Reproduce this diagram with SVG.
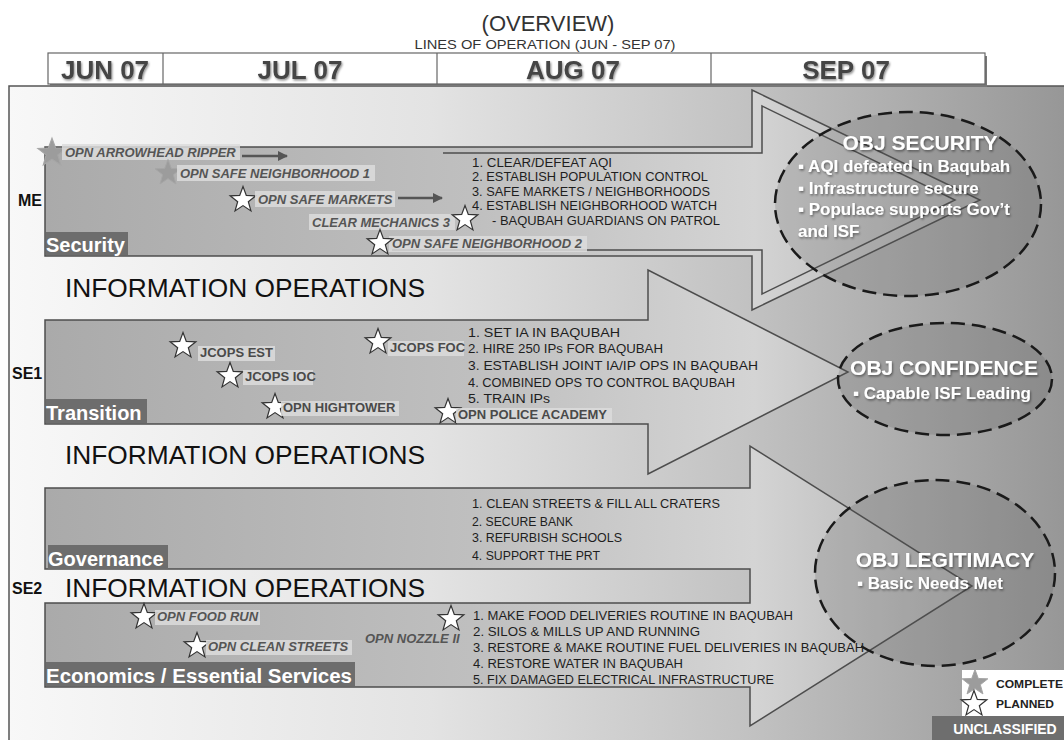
<svg xmlns="http://www.w3.org/2000/svg" width="1064" height="740" viewBox="0 0 1064 740">
<defs>
  <linearGradient id="bgGrad" gradientUnits="userSpaceOnUse" x1="8" y1="0" x2="1064" y2="0">
    <stop offset="0" stop-color="#f8f8f8"/>
    <stop offset="0.4" stop-color="#e3e3e3"/>
    <stop offset="0.7" stop-color="#c2c2c2"/>
    <stop offset="1" stop-color="#979797"/>
  </linearGradient>
  <linearGradient id="arrowGrad" gradientUnits="userSpaceOnUse" x1="45" y1="0" x2="990" y2="0">
    <stop offset="0" stop-color="#aaaaaa"/>
    <stop offset="0.45" stop-color="#bfbfbf"/>
    <stop offset="0.75" stop-color="#d4d4d4"/>
    <stop offset="1" stop-color="#ababab"/>
  </linearGradient>
  <path id="star" d="M0,-13.5 L3.29,-4.53 L12.84,-4.17 L5.33,1.73 L7.94,10.92 L0,5.6 L-7.94,10.92 L-5.33,1.73 L-12.84,-4.17 L-3.29,-4.53 Z"/>
  <marker id="ah" viewBox="0 0 10 10" refX="9" refY="5" markerWidth="4" markerHeight="4" orient="auto">
    <path d="M0,0 L10,5 L0,10 Z" fill="#555"/>
  </marker>
  <filter id="sh" x="-10%" y="-20%" width="120%" height="150%">
    <feDropShadow dx="1" dy="1.5" stdDeviation="0.8" flood-color="#000" flood-opacity="0.45"/>
  </filter>
</defs>
<style>
  .band{fill:url(#arrowGrad);stroke:#4d4d4d;stroke-width:1.5}
  .inner{fill:none;stroke:#4d4d4d;stroke-width:1.5}
  .io{font-family:"Liberation Sans",Arial,sans-serif;font-size:26px;fill:#111}
  .lbl{font-family:"Liberation Sans",Arial,sans-serif;font-size:16px;font-weight:bold;fill:#111}
  .tag{fill:#6d6d6d}
  .tagt{font-family:"Liberation Sans",Arial,sans-serif;font-size:20px;font-weight:bold;fill:#fff}
  .opi{font-family:"Liberation Sans",Arial,sans-serif;font-size:13px;font-weight:bold;font-style:italic;fill:#555}
  .opn{font-family:"Liberation Sans",Arial,sans-serif;font-size:13px;font-weight:bold;fill:#4a4a4a}
  .opbg{fill:#dcdcdc;fill-opacity:0.85}
  .list{font-family:"Liberation Sans",Arial,sans-serif;font-size:12px;fill:#1e1e1e}
  .obj{font-family:"Liberation Sans",Arial,sans-serif;font-size:21px;font-weight:bold;fill:#fff}
  .objl{font-family:"Liberation Sans",Arial,sans-serif;font-size:17px;font-weight:bold;fill:#fff}
  .ell{fill:#555;fill-opacity:0.2;stroke:#1a1a1a;stroke-width:2.5;stroke-dasharray:14 7}
  .planned{fill:#fff;stroke:#333;stroke-width:1.2}
  .complete{fill:#9c9c9c;stroke:#a6a6a6;stroke-width:1}
  .month{font-family:"Liberation Sans",Arial,sans-serif;font-size:26px;font-weight:bold;fill:#444;text-anchor:middle}
  .conn{stroke:#555;stroke-width:2.5;fill:none}
  .leg{font-family:"Liberation Sans",Arial,sans-serif;font-size:11px;font-weight:bold;fill:#222}
</style>

<rect x="0" y="0" width="1064" height="740" fill="#fff"/>

<g id="title">
  <text x="548" y="31" font-family="Liberation Sans, Arial, sans-serif" font-size="22" fill="#333" text-anchor="middle">(OVERVIEW)</text>
  <text x="545" y="49" font-family="Liberation Sans, Arial, sans-serif" font-size="12" fill="#333" text-anchor="middle" textLength="261" lengthAdjust="spacingAndGlyphs">LINES OF OPERATION (JUN - SEP 07)</text>
</g>

<g id="frame">
  <rect x="9" y="86" width="1060" height="660" fill="url(#bgGrad)" stroke="#555" stroke-width="1.5"/>
</g>

<g id="header">
  <rect x="50" y="56" width="937" height="31" fill="#777"/>
  <rect x="48" y="53" width="937" height="31" fill="#fff" stroke="#666" stroke-width="1.2"/>
  <line x1="163" y1="53" x2="163" y2="84" stroke="#666" stroke-width="1.2"/>
  <line x1="437" y1="53" x2="437" y2="84" stroke="#666" stroke-width="1.2"/>
  <line x1="711" y1="53" x2="711" y2="84" stroke="#666" stroke-width="1.2"/>
  <g filter="url(#sh)">
    <text class="month" x="105" y="79">JUN 07</text>
    <text class="month" x="300" y="79">JUL 07</text>
    <text class="month" x="573" y="79" fill="#333">AUG 07</text>
    <text class="month" x="846" y="79">SEP 07</text>
  </g>
</g>

<g id="loo-security">
  <path class="band" d="M45,147 L752,147 L752,90 L980,200 L752,310 L752,256 L45,256 Z"/>
  <path class="inner" d="M443,153 L762,153 L762,106 L955,200 L762,294 L762,250 L392,250"/>
  <text class="lbl" x="18" y="206">ME</text>
  <rect class="tag" x="46" y="232" width="82" height="23"/>
  <text class="tagt" x="46" y="252">Security</text>
</g>

<g id="loo-transition">
  <path class="band" d="M45,320 L648,320 L648,270 L848,372 L648,474 L648,424 L45,424 Z"/>
  <text class="lbl" x="12" y="379">SE1</text>
  <rect class="tag" x="46" y="399" width="101" height="24"/>
  <text class="tagt" x="46" y="420">Transition</text>
</g>

<g id="loo-governance-economics">
  <path class="band" d="M45,488 L750,488 L750,446 L972,586 L750,726 L750,687 L45,687 L45,603 L750,603 L750,569 L45,569 Z"/>
  <text class="lbl" x="12" y="594" font-size="15">SE2</text>
  <rect class="tag" x="48" y="545" width="120" height="24"/>
  <text class="tagt" x="48" y="566">Governance</text>
  <rect class="tag" x="46" y="662" width="309" height="24"/>
  <text class="tagt" x="46" y="683" textLength="306" lengthAdjust="spacingAndGlyphs">Economics / Essential Services</text>
</g>

<g id="info-ops">
  <text class="io" x="65" y="297" textLength="360" lengthAdjust="spacingAndGlyphs">INFORMATION OPERATIONS</text>
  <text class="io" x="65" y="464" textLength="360" lengthAdjust="spacingAndGlyphs">INFORMATION OPERATIONS</text>
  <text class="io" x="65" y="597" textLength="360" lengthAdjust="spacingAndGlyphs">INFORMATION OPERATIONS</text>
</g>

<g id="objectives">
  <g id="obj-security">
    <ellipse class="ell" cx="908" cy="204" rx="133" ry="92"/>
    <g filter="url(#sh)">
      <text class="obj" x="920" y="150" text-anchor="middle">OBJ SECURITY</text>
      <text class="objl" x="798" y="172">▪ AQI defeated in Baqubah</text>
      <text class="objl" x="798" y="194">▪ Infrastructure secure</text>
      <text class="objl" x="798" y="215">▪ Populace supports Gov’t</text>
      <text class="objl" x="798" y="237">and ISF</text>
    </g>
  </g>
  <g id="obj-confidence">
    <ellipse class="ell" cx="945" cy="379" rx="107" ry="56"/>
    <g filter="url(#sh)">
      <text class="obj" x="944" y="375" text-anchor="middle">OBJ CONFIDENCE</text>
      <text class="objl" x="853" y="399">▪ Capable ISF Leading</text>
    </g>
  </g>
  <g id="obj-legitimacy">
    <ellipse class="ell" cx="935" cy="573" rx="120" ry="93"/>
    <g filter="url(#sh)">
      <text class="obj" x="945" y="567" text-anchor="middle">OBJ LEGITIMACY</text>
      <text class="objl" x="857" y="589">▪ Basic Needs Met</text>
    </g>
  </g>
</g>

<g id="security-ops">
  <use href="#star" class="complete" transform="translate(52,153) scale(1.1)"/>
  <rect class="opbg" x="62" y="144" width="178" height="16"/>
  <text class="opi" x="65" y="157">OPN ARROWHEAD RIPPER</text>
  <use href="#star" class="complete" transform="translate(168,173)"/>
  <rect class="opbg" x="177" y="165" width="198" height="16"/>
  <text class="opi" x="180" y="178">OPN SAFE NEIGHBORHOOD 1</text>
  <use href="#star" class="planned" transform="translate(243,200)"/>
  <rect class="opbg" x="255" y="191" width="140" height="16"/>
  <text class="opi" x="258" y="204">OPN SAFE MARKETS</text>
  <rect class="opbg" x="309" y="214" width="146" height="16"/>
  <text class="opi" x="312" y="227">CLEAR MECHANICS 3</text>
  <use href="#star" class="planned" transform="translate(465,219)"/>
  <rect class="opbg" x="389" y="236" width="198" height="16"/>
  <use href="#star" class="planned" transform="translate(380,243)"/>
  <text class="opi" x="392" y="248">OPN SAFE NEIGHBORHOOD 2</text>
  <g id="security-tasks">
    <text class="list" x="472" y="166.5" textLength="140" lengthAdjust="spacingAndGlyphs">1. CLEAR/DEFEAT AQI</text>
    <text class="list" x="472" y="180.5" textLength="236" lengthAdjust="spacingAndGlyphs">2. ESTABLISH POPULATION CONTROL</text>
    <text class="list" x="472" y="195.5" textLength="238" lengthAdjust="spacingAndGlyphs">3. SAFE MARKETS / NEIGHBORHOODS</text>
    <text class="list" x="472" y="209.5" textLength="245" lengthAdjust="spacingAndGlyphs">4. ESTABLISH NEIGHBORHOOD WATCH</text>
    <text class="list" x="492" y="224.5" textLength="228" lengthAdjust="spacingAndGlyphs">- BAQUBAH GUARDIANS ON PATROL</text>
  </g>
</g>

<g id="transition-ops">
  <use href="#star" class="planned" transform="translate(183,346)"/>
  <rect class="opbg" x="198" y="346" width="77" height="15"/>
  <text class="opn" x="200" y="357">JCOPS EST</text>
  <use href="#star" class="planned" transform="translate(230,376)"/>
  <rect class="opbg" x="243" y="370" width="70" height="15"/>
  <text class="opn" x="245" y="381">JCOPS IOC</text>
  <use href="#star" class="planned" transform="translate(275,407)"/>
  <rect class="opbg" x="281" y="401" width="118" height="15"/>
  <text class="opn" x="283" y="412">OPN HIGHTOWER</text>
  <use href="#star" class="planned" transform="translate(378,342)"/>
  <rect class="opbg" x="388" y="341" width="76" height="15"/>
  <text class="opn" x="390" y="352">JCOPS FOC</text>
  <use href="#star" class="planned" transform="translate(448,412)"/>
  <rect class="opbg" x="456" y="408" width="156" height="15"/>
  <text class="opn" x="458" y="419">OPN POLICE ACADEMY</text>
  <g id="transition-tasks">
    <text class="list" x="468" y="336.5" textLength="152" lengthAdjust="spacingAndGlyphs">1. SET IA IN BAQUBAH</text>
    <text class="list" x="468" y="352.5" textLength="195" lengthAdjust="spacingAndGlyphs">2. HIRE 250 IPs FOR BAQUBAH</text>
    <text class="list" x="468" y="369.5" textLength="290" lengthAdjust="spacingAndGlyphs">3. ESTABLISH JOINT IA/IP OPS IN BAQUBAH</text>
    <text class="list" x="468" y="386.5" textLength="267" lengthAdjust="spacingAndGlyphs">4. COMBINED OPS TO CONTROL BAQUBAH</text>
    <text class="list" x="468" y="402.5" textLength="82" lengthAdjust="spacingAndGlyphs">5. TRAIN IPs</text>
  </g>
</g>

<g id="governance-tasks">
  <text class="list" x="472" y="507.5" textLength="248" lengthAdjust="spacingAndGlyphs">1. CLEAN STREETS &amp; FILL ALL CRATERS</text>
  <text class="list" x="472" y="525.5" textLength="101" lengthAdjust="spacingAndGlyphs">2. SECURE BANK</text>
  <text class="list" x="472" y="541.5" textLength="150" lengthAdjust="spacingAndGlyphs">3. REFURBISH SCHOOLS</text>
  <text class="list" x="472" y="559.5" textLength="128" lengthAdjust="spacingAndGlyphs">4. SUPPORT THE PRT</text>
</g>

<g id="economics-ops">
  <use href="#star" class="planned" transform="translate(144,617)"/>
  <rect class="opbg" x="155" y="610" width="105" height="15"/>
  <text class="opi" x="157" y="621">OPN FOOD RUN</text>
  <use href="#star" class="planned" transform="translate(197,646)"/>
  <rect class="opbg" x="206" y="640" width="146" height="15"/>
  <text class="opi" x="208" y="651">OPN CLEAN STREETS</text>
  <text class="opi" x="365" y="643">OPN NOZZLE II</text>
  <use href="#star" class="planned" transform="translate(451,619)"/>
  <g id="economics-tasks">
    <text class="list" x="473" y="619.5" textLength="320" lengthAdjust="spacingAndGlyphs">1. MAKE FOOD DELIVERIES ROUTINE IN BAQUBAH</text>
    <text class="list" x="473" y="635.5" textLength="227" lengthAdjust="spacingAndGlyphs">2. SILOS &amp; MILLS UP AND RUNNING</text>
    <text class="list" x="473" y="651.5" textLength="391" lengthAdjust="spacingAndGlyphs">3. RESTORE &amp; MAKE ROUTINE FUEL DELIVERIES IN BAQUBAH</text>
    <text class="list" x="473" y="667.5" textLength="210" lengthAdjust="spacingAndGlyphs">4. RESTORE WATER IN BAQUBAH</text>
    <text class="list" x="473" y="683.5" textLength="301" lengthAdjust="spacingAndGlyphs">5. FIX DAMAGED ELECTRICAL INFRASTRUCTURE</text>
  </g>
</g>

<g id="connectors">
  <line class="conn" x1="242" y1="156" x2="287" y2="156" marker-end="url(#ah)"/>
  <line class="conn" x1="398" y1="198" x2="442" y2="198" marker-end="url(#ah)"/>
</g>

<g id="legend">
  <rect x="962" y="670" width="102" height="46" fill="#fff"/>
  <use href="#star" class="complete" transform="translate(975,683)"/>
  <text class="leg" x="996" y="688" textLength="67" lengthAdjust="spacingAndGlyphs">COMPLETE</text>
  <use href="#star" class="planned" transform="translate(974,704)"/>
  <text class="leg" x="996" y="708" textLength="58" lengthAdjust="spacingAndGlyphs">PLANNED</text>
</g>

<g id="classification">
  <rect x="932" y="716" width="132" height="24" fill="#6e6e6e"/>
  <text x="1005" y="734" font-family="Liberation Sans, Arial, sans-serif" font-size="14" font-weight="bold" fill="#fff" text-anchor="middle">UNCLASSIFIED</text>
</g>
</svg>
